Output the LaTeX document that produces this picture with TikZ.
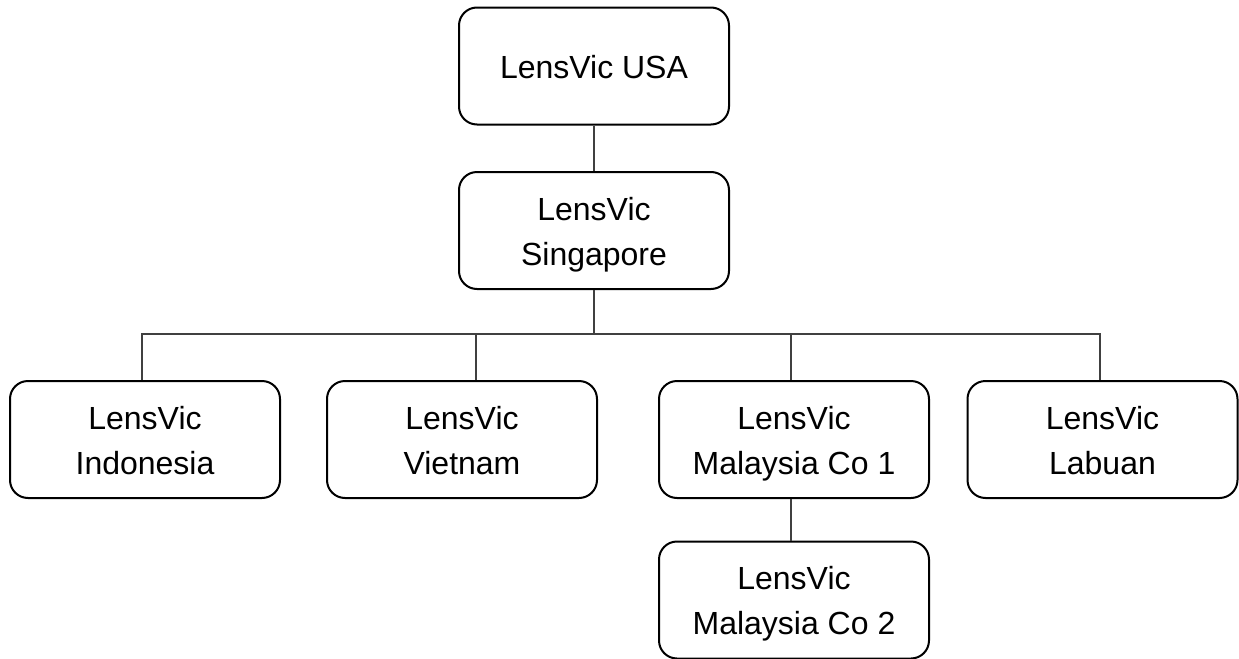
\documentclass[tikz,border=0pt]{standalone}
\usepackage{fontspec}
\setmainfont{Liberation Sans}
\newcommand\lvstrut{\rule[-5.25pt]{0pt}{22.5pt}}
\begin{document}
\begin{tikzpicture}[x=0.5pt,y=-0.5pt,
  orgbox/.style={draw=black, line width=1pt, rounded corners=9pt, fill=white,
    minimum width=135pt, minimum height=58.5pt, inner sep=0pt, align=center,
    font=\fontsize{16}{22.5}\selectfont},
  link/.style={draw=black!75, line width=0.55pt}]
\useasboundingbox (0,0) rectangle (1239,659);
\node[orgbox] (usa) at (594,66) {LensVic USA\lvstrut};
\node[orgbox] (sg) at (594,230.5) {LensVic\lvstrut\\Singapore\lvstrut};
\node[orgbox] (ind) at (145,439.5) {LensVic\lvstrut\\Indonesia\lvstrut};
\node[orgbox] (vn) at (462,439.5) {LensVic\lvstrut\\Vietnam\lvstrut};
\node[orgbox] (my1) at (794,439.5) {LensVic\lvstrut\\Malaysia Co 1\lvstrut};
\node[orgbox] (lab) at (1102.5,439.5) {LensVic\lvstrut\\Labuan\lvstrut};
\node[orgbox] (my2) at (794,600) {LensVic\lvstrut\\Malaysia Co 2\lvstrut};
\coordinate (bus) at (594,334);
\draw[link] (usa.south) -- (sg.north);
\draw[link] (sg.south) -- (bus);
\draw[link] ([xshift=-1.5pt]ind.north) -- ([xshift=-1.5pt]ind.north |- bus) -- ([xshift=-1.25pt]lab.north |- bus) -- ([xshift=-1.25pt]lab.north);
\draw[link] ([xshift=7pt]vn.north) -- ([xshift=7pt]vn.north |- bus);
\draw[link] ([xshift=-1.5pt]my1.north) -- ([xshift=-1.5pt]my1.north |- bus);
\draw[link] ([xshift=-1.5pt]my1.south) -- ([xshift=-1.5pt]my2.north);
\end{tikzpicture}
\end{document}
